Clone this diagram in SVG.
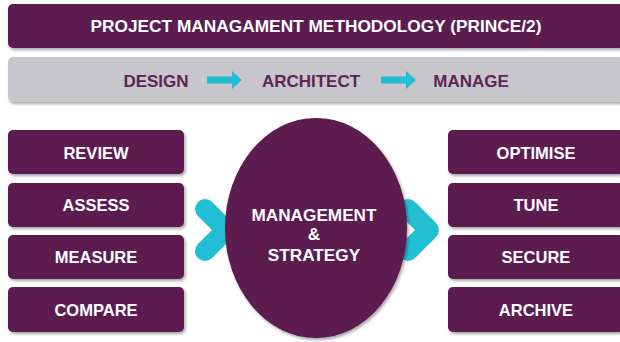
<svg xmlns="http://www.w3.org/2000/svg" width="620" height="342" viewBox="0 0 620 342">
<defs>
<filter id="sh" x="-10%" y="-20%" width="130%" height="150%">
<feDropShadow dx="1.5" dy="2" stdDeviation="1.5" flood-color="#000" flood-opacity="0.35"/>
</filter>
<style>
.box{fill:#5B1A4F;filter:url(#sh)}
.bar{fill:#C7C6CB;filter:url(#sh)}
.lbl{font-family:"Liberation Sans",Arial,sans-serif;font-weight:bold;font-size:16.5px;fill:#FFFFFF;text-anchor:middle}
.ttl{font-size:17.3px}
.ctr{font-size:17.2px}
.step{font-family:"Liberation Sans",Arial,sans-serif;font-weight:bold;font-size:17px;fill:#5E2457;text-anchor:middle}
.chev{fill:none;stroke:#22BED4;stroke-width:20;stroke-linecap:round;stroke-linejoin:round}
.arr{fill:#22BED4}
</style>
</defs>
<rect width="620" height="342" fill="#FFFFFF"/>
<g id="title">
<rect class="box" x="8" y="4" width="616" height="44" rx="5"/>
<text class="lbl ttl" x="316" y="31.5">PROJECT MANAGAMENT METHODOLOGY (PRINCE/2)</text>
</g>
<g id="phases">
<rect class="bar" x="8" y="57" width="616" height="45" rx="5"/>
<text class="step" x="156" y="86.5">DESIGN</text>
<text class="step" x="311" y="86.5">ARCHITECT</text>
<text class="step" x="471" y="86.5">MANAGE</text>
</g>
<g id="connectors">
<path class="arr" d="M207 76.5H232V71L242 80L232 89V83.5H207Z"/>
<path class="arr" d="M381 76.5H406V71L416 80L406 89V83.5H381Z"/>
<polyline class="chev" points="205,209 226,230 205,251"/>
<polyline class="chev" points="408,209 429,230 408,251"/>
</g>
<g id="review"><rect class="box" x="8" y="130" width="176" height="44" rx="5"/><text class="lbl" x="96" y="158.5">REVIEW</text></g>
<g id="assess"><rect class="box" x="8" y="183" width="176" height="44" rx="5"/><text class="lbl" x="96" y="211">ASSESS</text></g>
<g id="measure"><rect class="box" x="8" y="235" width="176" height="44" rx="5"/><text class="lbl" x="96" y="263">MEASURE</text></g>
<g id="compare"><rect class="box" x="8" y="287" width="176" height="45" rx="5"/><text class="lbl" x="96" y="315.5">COMPARE</text></g>
<g id="strategy">
<ellipse class="box" cx="316" cy="228" rx="91" ry="110"/>
<text class="lbl ctr" x="314" y="221">MANAGEMENT</text>
<text class="lbl ctr" x="314" y="240">&amp;</text>
<text class="lbl ctr" x="314" y="261">STRATEGY</text>
</g>
<g id="optimise"><rect class="box" x="448" y="130" width="176" height="44" rx="5"/><text class="lbl" x="536" y="158.5">OPTIMISE</text></g>
<g id="tune"><rect class="box" x="448" y="183" width="176" height="44" rx="5"/><text class="lbl" x="536" y="211">TUNE</text></g>
<g id="secure"><rect class="box" x="448" y="235" width="176" height="44" rx="5"/><text class="lbl" x="536" y="263">SECURE</text></g>
<g id="archive"><rect class="box" x="448" y="287" width="176" height="45" rx="5"/><text class="lbl" x="536" y="315.5">ARCHIVE</text></g>
</svg>
